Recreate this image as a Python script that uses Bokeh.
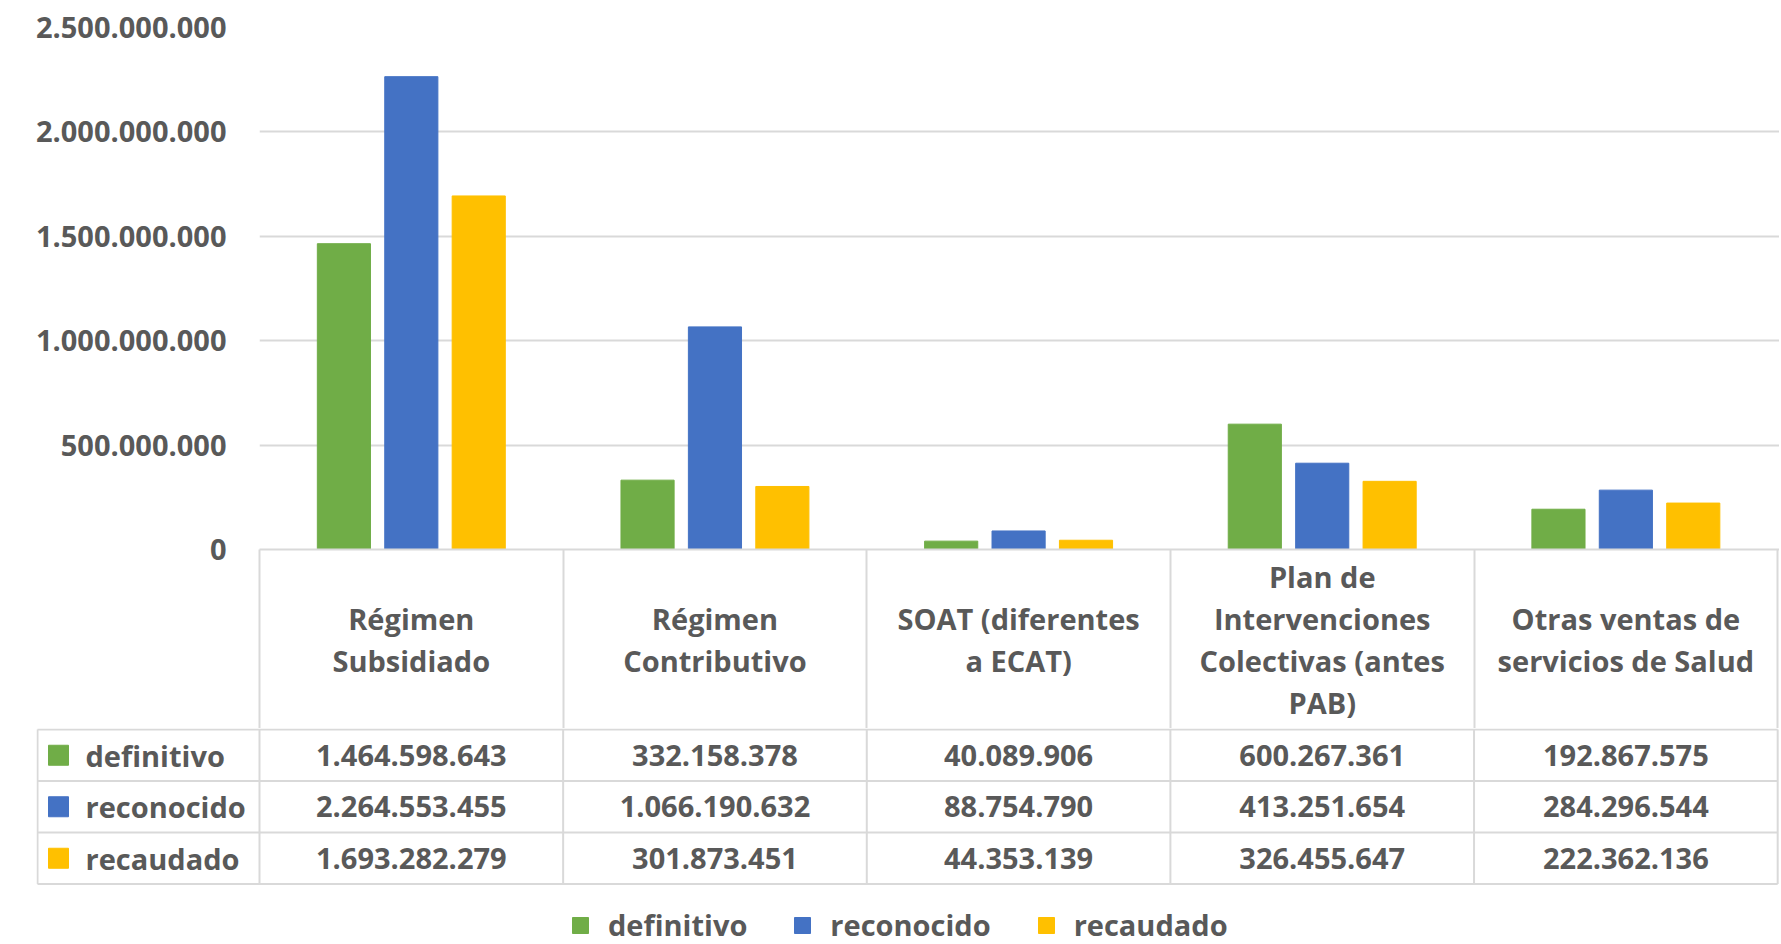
from bokeh.plotting import figure
from bokeh.models import (Range1d, ColumnDataSource, Legend, LegendItem,
                          CustomJSTickFormatter, FixedTicker)
from bokeh.transform import dodge
from bokeh.core.properties import value
from bokeh.embed import file_html
from bokeh.resources import INLINE

# ---------------- data ----------------
categories = ["Régimen\nSubsidiado", "Régimen\nContributivo", "SOAT (diferentes\na ECAT)",
              "Plan de\nIntervenciones\nColectivas (antes\nPAB)", "Otras ventas de\nservicios de Salud"]
series_names = ["definitivo", "reconocido", "recaudado"]
definitivo = [1464598643, 332158378, 40089906, 600267361, 192867575]
reconocido = [2264553455, 1066190632, 88754790, 413251654, 284296544]
recaudado = [1693282279, 301873451, 44353139, 326455647, 222362136]
colors = ["#70AD47", "#4472C4", "#FFC000"]
y_ticks = [0, 500000000, 1000000000, 1500000000, 2000000000, 2500000000]

# ---------------- style / layout ----------------
FONT = "Open Sans"
FSIZE = "29px"
TCOL = "#595959"
LINE = "#D9D9D9"
W = 1779
TOP_H = 728
TOP_BORDER = 27
LEFT_BORDER = 259
HEAD_PX = 179
BOT_H = 216
BOT_LEFT = 36
EXTRA = 0.006
n = len(categories)
COL = (W - LEFT_BORDER) / (n + EXTRA)
LEFT_COL_PX = 222
ROW_PX = 51.5

xs = list(range(n))
series = [definitivo, reconocido, recaudado]
bounds = [i - 0.5 for i in range(n + 1)]

# header labels padded so that every block is vertically centred
max_lines = max(c.count("\n") + 1 for c in categories)
def pad(label):
    k = label.count("\n") + 1
    top_pad = (max_lines - k) // 2
    return "\n".join([" "] * top_pad + label.split("\n"))

# ---------------- top chart ----------------
top = figure(width=W, height=TOP_H, output_backend="svg", toolbar_location=None,
             x_range=Range1d(-0.5, n - 0.5 + EXTRA), y_range=Range1d(0, y_ticks[-1]),
             min_border_left=LEFT_BORDER, min_border_right=0,
             min_border_top=TOP_BORDER, min_border_bottom=HEAD_PX)
top.outline_line_color = None
top.xgrid.grid_line_color = None
top.ygrid.grid_line_color = LINE
top.ygrid.grid_line_width = 2

top.yaxis.ticker = FixedTicker(ticks=y_ticks)
top.yaxis.formatter = CustomJSTickFormatter(
    code=r"return Math.round(tick).toString().replace(/\B(?=(\d{3})+(?!\d))/g, '.');")
top.yaxis.axis_line_color = None
top.yaxis.major_tick_line_color = None
top.yaxis.minor_tick_line_color = None
top.yaxis.major_tick_out = 0
top.yaxis.major_tick_in = 0
top.yaxis.major_label_standoff = 33

# category header row of the data table = x axis (separators are minor ticks)
top.xaxis.ticker = FixedTicker(ticks=xs, minor_ticks=bounds)
top.xaxis.major_label_overrides = {i: pad(c) for i, c in zip(xs, categories)}
top.xaxis.axis_line_color = LINE
top.xaxis.axis_line_width = 2
top.xaxis.major_tick_line_color = None
top.xaxis.major_tick_out = 0
top.xaxis.major_tick_in = 0
top.xaxis.minor_tick_line_color = LINE
top.xaxis.minor_tick_line_width = 2
top.xaxis.minor_tick_out = HEAD_PX + 2
top.xaxis.minor_tick_in = 0
top.xaxis.major_label_standoff = 7 - (HEAD_PX + 2)
top.xaxis.major_label_text_line_height = 1.08

for ax in (top.xaxis, top.yaxis):
    ax.major_label_text_font = FONT
    ax.major_label_text_font_style = "bold"
    ax.major_label_text_font_size = FSIZE
    ax.major_label_text_color = TCOL

src = ColumnDataSource(dict(x=xs, definitivo=definitivo, reconocido=reconocido, recaudado=recaudado))
offsets = [-0.222, 0.0, 0.222]
for name, off, c in zip(series_names, offsets, colors):
    top.vbar(x=dodge("x", off), top=name, width=0.175, source=src,
             fill_color=c, line_color=c)

# ---------------- bottom data table ----------------
x_end = n - 0.5 + EXTRA
x_start = x_end - (W - BOT_LEFT) / COL
x_left = -0.5 - LEFT_COL_PX / COL
y_end = 0.5 + 1.0 / ROW_PX
y_start = y_end - BOT_H / ROW_PX

bot = figure(width=W, height=BOT_H, output_backend="svg", toolbar_location=None,
             x_range=Range1d(x_start, x_end), y_range=Range1d(y_start, y_end),
             x_axis_location=None, y_axis_location=None,
             min_border_left=BOT_LEFT, min_border_right=0, min_border_top=0, min_border_bottom=0)
bot.outline_line_color = None
bot.grid.visible = False

rows = [-i for i in range(len(series_names))]
edges = [0.5] + [r - 0.5 for r in rows]
bottom_edge = edges[-1]

bot.segment(x0=[x_left] * len(edges), y0=edges, x1=[n - 0.5] * len(edges), y1=edges,
            line_color=LINE, line_width=2)
vx = bounds + [x_left]
bot.segment(x0=vx, y0=[bottom_edge] * len(vx), x1=vx, y1=[0.5] * len(vx),
            line_color=LINE, line_width=2)

txt = dict(text_font=value(FONT), text_font_style="bold", text_font_size=FSIZE, text_color=TCOL)

def fmt(v):
    return f"{v:,}".replace(",", ".")

for r, vals in zip(rows, series):
    bot.text(x=xs, y=[r] * n, text=[fmt(v) for v in vals], text_align="center",
             text_baseline="middle", **txt)

bot.text(x=[x_left + 48 / COL] * len(rows), y=rows, text=series_names, text_align="left",
         text_baseline="middle", **txt)

items = []
for r, name, c in zip(rows, series_names, colors):
    rr = bot.rect(x=[x_left + 21 / COL], y=[r], width=20, height=20, width_units="screen",
                  height_units="screen", fill_color=c, line_color=c)
    items.append(LegendItem(label=name, renderers=[rr]))

legend = Legend(items=items, orientation="horizontal", location=(570 - BOT_LEFT, 0),
                glyph_width=20, glyph_height=20, label_standoff=18, spacing=45,
                padding=0, margin=0, border_line_color=None, background_fill_alpha=0,
                label_text_font=FONT, label_text_font_style="bold",
                label_text_font_size=FSIZE, label_text_color=TCOL)
bot.add_layout(legend)

open("out.html", "w").write(file_html([top, bot], INLINE))
